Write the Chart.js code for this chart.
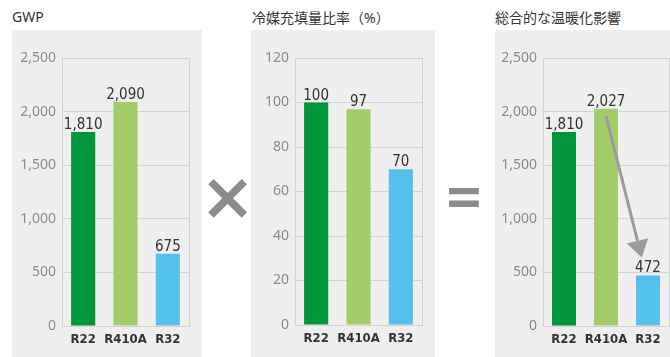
<!DOCTYPE html>
<html lang="ja">
<head>
  <meta charset="UTF-8" />
  <title>冷媒別の温暖化影響</title>
  <script src="https://cdn.jsdelivr.net/npm/chart.js"></script>
  <style>
    body {
      margin: 0;
      width: 670px;
      height: 357px;
      background: #fff;
      position: relative;
      overflow: hidden;
      font-family: "Noto Sans", "Noto Sans CJK JP", sans-serif;
    }

    .title {
      position: absolute;
      top: 7px;
      font-size: 14px;
      color: #333;
      font-family: "Noto Sans", "Noto Sans CJK JP", sans-serif;
      white-space: nowrap;
    }

    .panel {
      position: absolute;
      top: 30px;
      height: 327px;
      background: #efefef;
    }

    .op {
      position: absolute;
      color: #8c8c8c;
      font-family: "DejaVu Sans", sans-serif;
      font-weight: bold;
      line-height: 1;
    }
  </style>
</head>
<body>

  <div class="title" style="left: 12px;">GWP</div>
  <div class="title" style="left: 252px;">冷媒充填量比率（%）</div>
  <div class="title" style="left: 495px;">総合的な温暖化影響</div>

  <div class="panel" style="left: 12px; width: 190px;"><canvas id="gwpChart"></canvas></div>
  <div class="panel" style="left: 251px; width: 184px;"><canvas id="ratioChart"></canvas></div>
  <div class="panel" style="left: 495px; width: 175px;"><canvas id="impactChart"></canvas></div>

  <div class="op" style="left: 200px; top: 164px; font-size: 66px;">×</div>
  <div class="op" style="left: 444px; top: 168px; font-size: 56px; transform: scaleX(0.85); transform-origin: left top;">=</div>

  <script>
    // 冷媒ごとの値
    const refrigerants = ['R22', 'R410A', 'R32'];
    const gwpValues = [1810, 2090, 675];
    const chargeRatio = [100, 97, 70];
    const totalImpact = [1810, 2027, 472];

    const gwpTicks = [0, 500, 1000, 1500, 2000, 2500];
    const ratioTicks = [0, 20, 40, 60, 80, 100, 120];

    // R410A → R32 の矢印（カテゴリ位置, 値）
    const arrowFrom = [1, 1960];
    const arrowTo = [1.85, 640];

    const barColors = ['#009639', '#a5cc6b', '#55c0ec'];

    const narrowFont = '"DejaVu Sans Condensed", "Liberation Sans Narrow", sans-serif';
    const fmt = v => v.toLocaleString('en-US');

    // 棒の上に数値を表示
    const valueLabels = {
      id: 'valueLabels',
      afterDatasetsDraw(chart) {
        const { ctx } = chart;
        const meta = chart.getDatasetMeta(0);
        const data = chart.data.datasets[0].data;
        ctx.save();
        ctx.font = '15px ' + narrowFont;
        ctx.fillStyle = '#333';
        ctx.textAlign = 'center';
        ctx.textBaseline = 'alphabetic';
        meta.data.forEach((bar, i) => {
          ctx.fillText(fmt(data[i]), bar.x, bar.y - 3);
        });
        ctx.restore();
      }
    };

    // プロット領域の枠線
    const plotFrame = {
      id: 'plotFrame',
      beforeDatasetsDraw(chart) {
        const { ctx, chartArea: a } = chart;
        ctx.save();
        ctx.strokeStyle = '#d2d2d2';
        ctx.lineWidth = 1;
        ctx.strokeRect(Math.round(a.left) + 0.5, Math.round(a.top) + 0.5,
          Math.round(a.right - a.left), Math.round(a.bottom - a.top));
        ctx.restore();
      }
    };

    // 削減を示す矢印
    const arrowPlugin = {
      id: 'arrowPlugin',
      afterDatasetsDraw(chart) {
        const { ctx, scales: { x, y } } = chart;
        const x1 = x.getPixelForValue(arrowFrom[0]);
        const y1 = y.getPixelForValue(arrowFrom[1]);
        const x2 = x.getPixelForValue(arrowTo[0]);
        const y2 = y.getPixelForValue(arrowTo[1]);
        const ang = Math.atan2(y2 - y1, x2 - x1);
        const headLen = 17, headW = 11;
        const bx = x2 - headLen * Math.cos(ang);
        const by = y2 - headLen * Math.sin(ang);
        ctx.save();
        ctx.strokeStyle = '#9b9b9b';
        ctx.fillStyle = '#9b9b9b';
        ctx.lineWidth = 3;
        ctx.beginPath();
        ctx.moveTo(x1, y1);
        ctx.lineTo(bx, by);
        ctx.stroke();
        ctx.beginPath();
        ctx.moveTo(x2, y2);
        ctx.lineTo(bx + headW * Math.sin(ang), by - headW * Math.cos(ang));
        ctx.lineTo(bx - headW * Math.sin(ang), by + headW * Math.cos(ang));
        ctx.closePath();
        ctx.fill();
        ctx.restore();
      }
    };

    function makeChart(id, values, ticks, box, extraPlugins) {
      const tickMax = ticks[ticks.length - 1];
      const step = ticks[1] - ticks[0];
      return new Chart(document.getElementById(id), {
        type: 'bar',
        data: {
          labels: refrigerants,
          datasets: [{
            data: values,
            backgroundColor: barColors,
            categoryPercentage: 1,
            barPercentage: 0.57
          }]
        },
        options: {
          responsive: false,
          animation: false,
          maintainAspectRatio: false,
          layout: { padding: { top: box.top, right: box.right, left: 0, bottom: 0 } },
          plugins: {
            legend: { display: false },
            tooltip: { enabled: false }
          },
          scales: {
            x: {
              grid: { display: false, drawTicks: false },
              border: { display: false },
              ticks: {
                color: '#333',
                padding: 6,
                autoSkip: false,
                maxRotation: 0,
                minRotation: 0,
                font: { family: narrowFont, size: 13, weight: 'bold' }
              },
              afterFit(scale) { scale.height = box.bottom; }
            },
            y: {
              min: 0,
              max: tickMax,
              ticks: {
                stepSize: step,
                padding: 6,
                color: '#8a8a8a',
                font: { family: '"Noto Sans", sans-serif', size: 14 },
                callback: v => fmt(v)
              },
              grid: { color: '#d2d2d2', drawTicks: false },
              border: { display: false },
              afterFit(scale) { scale.width = box.left; }
            }
          }
        },
        plugins: [plotFrame, valueLabels].concat(extraPlugins || [])
      });
    }

    function sizeCanvas(id, w, h) {
      const c = document.getElementById(id);
      c.width = w;
      c.height = h;
      c.style.width = w + 'px';
      c.style.height = h + 'px';
    }

    sizeCanvas('gwpChart', 190, 327);
    sizeCanvas('ratioChart', 184, 327);
    sizeCanvas('impactChart', 175, 327);

    makeChart('gwpChart', gwpValues, gwpTicks, { left: 50, right: 13, top: 28, bottom: 31 });
    makeChart('ratioChart', chargeRatio, ratioTicks, { left: 44, right: 13, top: 28, bottom: 32 });
    makeChart('impactChart', totalImpact, gwpTicks, { left: 48, right: 1, top: 28, bottom: 31 }, [arrowPlugin]);
  </script>
</body>
</html>
